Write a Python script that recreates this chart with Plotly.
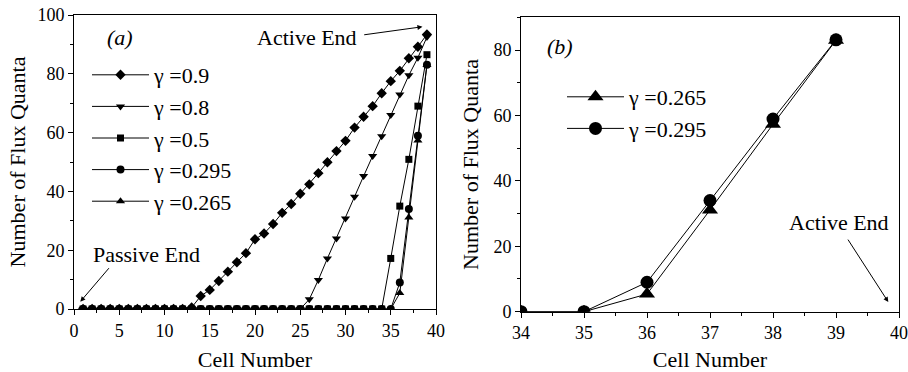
import plotly.graph_objects as go

# ---------------- data ----------------
cells_a = list(range(1, 40))

g09_tail = [0.5, 4.4, 6.5, 9.5, 12.7, 15.9, 19.0, 23.7, 25.7, 28.9, 32.7, 35.7, 39.2,
            42.4, 46.2, 49.9, 53.7, 57.2, 61.7, 65.4, 69.0, 73.4, 77.5, 81.0, 85.3, 89.2, 93.4]
gamma_09 = [0] * 12 + g09_tail                      # cells 1..39

g08_tail = [3.3, 9.9, 17.2, 24.0, 30.8, 38.2, 45.2, 52.0, 58.8, 66.0, 73.0, 79.5, 85.5, 92.5]
gamma_08 = [0] * 25 + g08_tail

g05_tail = [17.2, 35.0, 50.9, 69.0, 86.5]
gamma_05 = [0] * 34 + g05_tail

g0295_tail = [9.0, 34.0, 58.9, 83.1]
gamma_0295 = [0] * 35 + g0295_tail

g0265_tail = [5.4, 31.1, 57.3, 83.0]
gamma_0265 = [0] * 35 + g0265_tail

cells_b = [34, 35, 36, 37, 38, 39]
b_0265 = [0, 0, 5.4, 31.1, 57.3, 83.0]
b_0295 = [0, 0, 9.0, 34.0, 58.9, 83.1]

labels_a = ["γ =0.9", "γ =0.8", "γ =0.5", "γ =0.295", "γ =0.265"]
symbols_a = ["diamond", "triangle-down", "square", "circle", "triangle-up"]
series_a = [gamma_09, gamma_08, gamma_05, gamma_0295, gamma_0265]

FONT = "Liberation Serif"

fig = go.Figure()

for lab, sym, ys in zip(labels_a, symbols_a, series_a):
    fig.add_trace(go.Scatter(
        x=cells_a, y=ys, mode="lines+markers", name=lab,
        line=dict(color="black", width=1),
        marker=dict(symbol=sym, size=8 if sym != "square" else 7, color="black"),
        xaxis="x", yaxis="y", legend="legend"))

fig.add_trace(go.Scatter(
    x=cells_b, y=b_0265, mode="lines+markers", name="γ =0.265",
    line=dict(color="black", width=1),
    marker=dict(symbol="triangle-up", size=14, color="black"),
    xaxis="x2", yaxis="y2", legend="legend2"))
fig.add_trace(go.Scatter(
    x=cells_b, y=b_0295, mode="lines+markers", name="γ =0.295",
    line=dict(color="black", width=1),
    marker=dict(symbol="circle", size=13, color="black"),
    xaxis="x2", yaxis="y2", legend="legend2"))

axis_common = dict(showline=True, linecolor="black", linewidth=1, mirror=True,
                   ticks="outside", ticklen=5, tickcolor="black", showgrid=False,
                   zeroline=False, automargin=False,
                   tickfont=dict(family=FONT, size=18, color="black"))

fig.update_layout(
    width=908, height=372, margin=dict(l=0, r=0, t=0, b=0),
    paper_bgcolor="white", plot_bgcolor="white",
    font=dict(family=FONT, color="black", size=18),
    xaxis=dict(domain=[74/908, 436/908], range=[0, 40], dtick=5, tick0=0,
               minor=dict(dtick=2.5, ticks="outside", ticklen=3, tickcolor="black"),
               title=dict(text="Cell Number", font=dict(size=22), standoff=12),
               anchor="y", **axis_common),
    yaxis=dict(domain=[1-309/372, 1-15/372], range=[0, 100], dtick=20,
               minor=dict(dtick=10, ticks="outside", ticklen=3, tickcolor="black"),
               title=dict(text="Number of Flux Quanta", font=dict(size=22), standoff=5),
               anchor="x", **axis_common),
    xaxis2=dict(domain=[521/908, 899/908], range=[34, 40], dtick=1,
                minor=dict(dtick=0.5, ticks="outside", ticklen=3, tickcolor="black"),
                title=dict(text="Cell Number", font=dict(size=22), standoff=10),
                anchor="y2", **axis_common),
    yaxis2=dict(domain=[1-311.7/372, 1-17.3/372], range=[0, 90], dtick=20,
                minor=dict(dtick=10, ticks="outside", ticklen=3, tickcolor="black"),
                title=dict(text="Number of Flux Quanta", font=dict(size=22), standoff=8),
                anchor="x2", **axis_common),
    legend=dict(x=87/908, y=1-54/372, xanchor="left", yanchor="top",
                bgcolor="rgba(0,0,0,0)", font=dict(family=FONT, size=22),
                itemwidth=57, tracegroupgap=0, itemclick=False),
    legend2=dict(x=562/908, y=1-76/372, xanchor="left", yanchor="top",
                 bgcolor="rgba(0,0,0,0)", font=dict(family=FONT, size=22),
                 itemwidth=57, tracegroupgap=0, itemclick=False),
)

ann = []
txt = dict(family=FONT, size=22, color="black")
# panel (a)
ann.append(dict(x=5.1, y=92.5, xref="x", yref="y", text="<i>(a)</i>", showarrow=False, font=txt))
ann.append(dict(x=25.7, y=92.2, xref="x", yref="y", text="Active End", showarrow=False, font=txt))
ann.append(dict(x=8.06, y=18.4, xref="x", yref="y", text="Passive End", showarrow=False, font=txt))
ann.append(dict(x=38.5, y=96.0, xref="x", yref="y", ax=31.9, ay=93.2, axref="x", ayref="y",
                text="", showarrow=True, arrowhead=2, arrowsize=1, arrowwidth=1, arrowcolor="black"))
ann.append(dict(x=0.7, y=2.5, xref="x", yref="y", ax=4.0, ay=14.4, axref="x", ayref="y",
                text="", showarrow=True, arrowhead=2, arrowsize=1, arrowwidth=1, arrowcolor="black"))
# panel (b)
ann.append(dict(x=34.62, y=81, xref="x2", yref="y2", text="<i>(b)</i>", showarrow=False, font=txt))
ann.append(dict(x=39.05, y=27.4, xref="x2", yref="y2", text="Active End", showarrow=False, font=txt))
ann.append(dict(x=39.83, y=2.97, xref="x2", yref="y2", ax=39.175, ay=22.5, axref="x2", ayref="y2",
                text="", showarrow=True, arrowhead=2, arrowsize=1, arrowwidth=1, arrowcolor="black"))
fig.update_layout(annotations=ann)

fig.write_html("out.html",
               post_script="document.body.style.margin='0';document.body.style.overflow='hidden';")
